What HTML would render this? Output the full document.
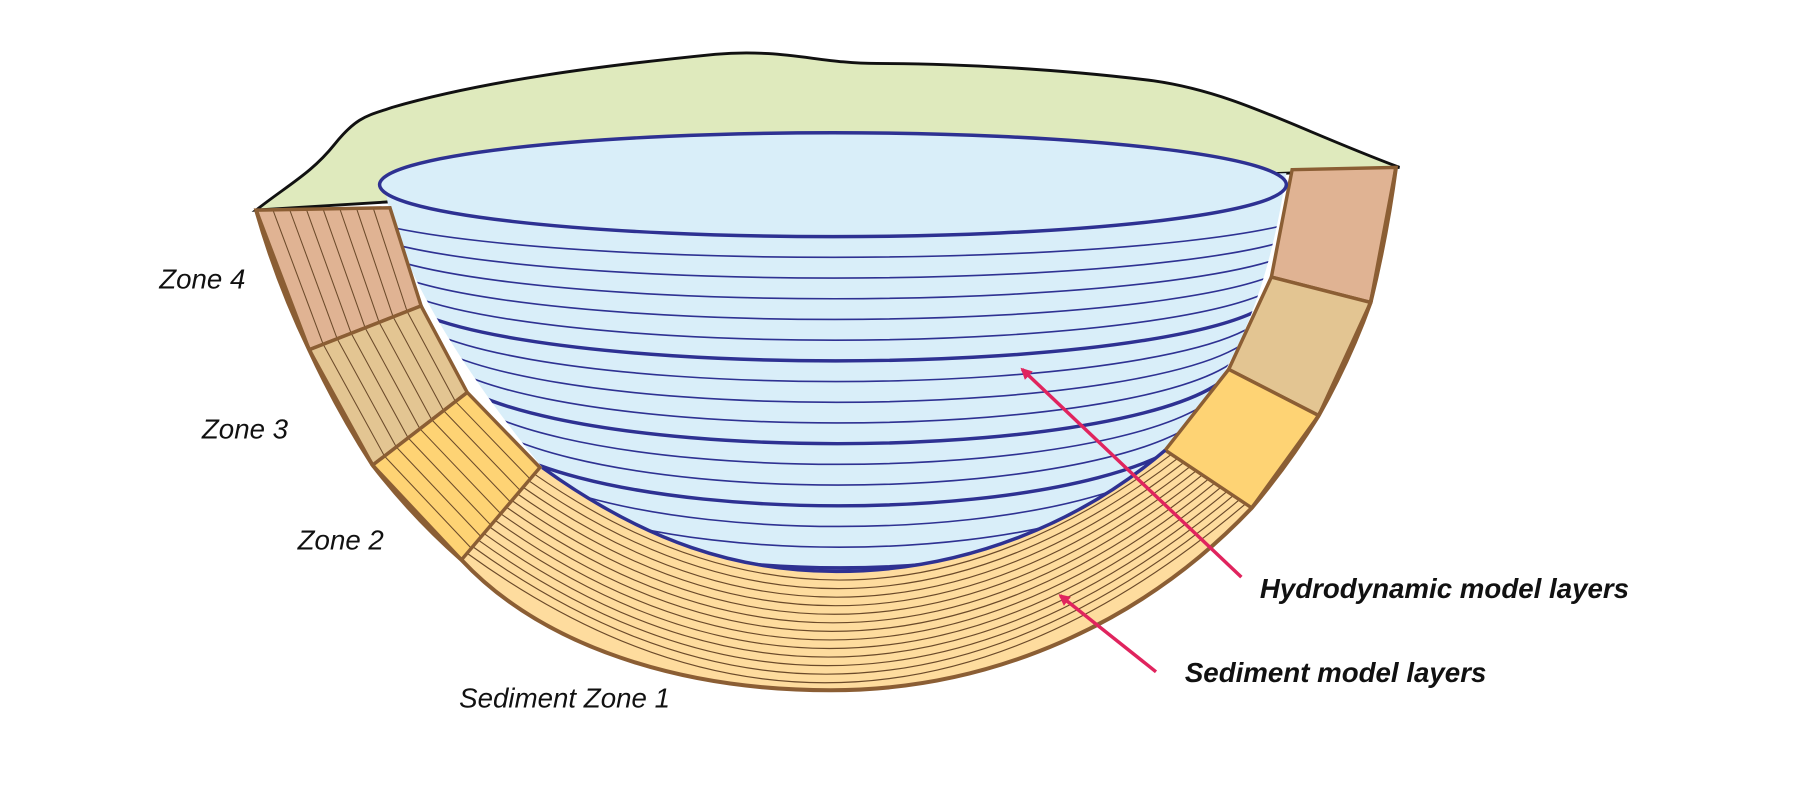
<!DOCTYPE html>
<html><head><meta charset="utf-8"><style>
html,body{margin:0;padding:0;background:#fff;}
svg{display:block;font-family:"Liberation Sans",Arial,sans-serif;}
</style></head><body>
<svg id="d" width="1809" height="793" viewBox="0 0 1568 687" preserveAspectRatio="none">
<defs>
<clipPath id="basinClip"><path d="M335,170 C345,230 400,320 470,405 C560,470 640,495 725,495 C840,495 940,450 1010,390 C1070,330 1100,250 1115,150 Z"/></clipPath>
<clipPath id="z1Clip"><path d="M400,485 L468,405 C560,470 640,495 725,495 C840,495 940,450 1010,390 L1085,440 C990,540 860,598 720,598 C590,598 470,560 400,485 Z"/></clipPath>
<marker id="ah" markerWidth="10" markerHeight="10" refX="8" refY="5" orient="auto" markerUnits="userSpaceOnUse"><path d="M0,0 L10,5 L0,10 Z" fill="#e0245e"/></marker>
</defs>
<path d="M222,182 C250,160 270,150 290,125 C310,100 320,100 340,93 C420,70 520,57 620,47 C680,42 710,55 760,55 C830,55 920,60 1000,70 C1070,80 1120,110 1213,145 L1115,150 L335,175 Z" fill="#dfeabd" stroke="#111" stroke-width="2.5"/>
<path d="M335,170 C345,230 400,320 470,405 C560,470 640,495 725,495 C840,495 940,450 1010,390 C1070,330 1100,250 1115,150 Z" fill="#d9eef9"/>
<g id="hydro" clip-path="url(#basinClip)"></g>
<path d="M400,485 L468,405 C560,470 640,495 725,495 C840,495 940,450 1010,390 L1085,440 C990,540 860,598 720,598 C590,598 470,560 400,485 Z" fill="#fedc9e"/>
<g id="sed" clip-path="url(#z1Clip)"></g>
<g id="zones"></g>
<path d="M470,405 C560,470 640,495 725,495 C840,495 940,450 1010,390" fill="none" stroke="#2e3192" stroke-width="3"/>
<path d="M222,182 Q240,245 268,303 Q292,355 323,403 Q358,448 400,485 C470,560 590,598 720,598 C860,598 990,540 1085,440 Q1117,402 1143,360 Q1170,312 1188,262 Q1202,205 1210,145" fill="none" stroke="#8b5e34" stroke-width="3.5"/>
<ellipse cx="722" cy="160" rx="393" ry="45" fill="#d9eef9" stroke="#2e3192" stroke-width="3"/>
<g font-style="italic" font-size="24" fill="#111">
<text x="138" y="250">Zone 4</text>
<text x="175" y="380">Zone 3</text>
<text x="258" y="476">Zone 2</text>
<text x="398" y="613">Sediment Zone 1</text>
<text x="1092" y="518" font-weight="bold">Hydrodynamic model layers</text>
<text x="1027" y="591" font-weight="bold">Sediment model layers</text>
</g>
<line x1="1076" y1="500" x2="886" y2="320" stroke="#e0245e" stroke-width="3" marker-end="url(#ah)"/>
<line x1="1002" y1="582" x2="919" y2="516" stroke="#e0245e" stroke-width="3" marker-end="url(#ah)"/>
</svg>
<script>
const NS="http://www.w3.org/2000/svg";
const hydroLayers=[0,1,2,3,4,5,6,7,8,9,10,11,12,13,14,15,16];
const thickLayers=[6,10,13,16];
const sedLayers=[1,2,3,4,5,6,7,8,9,10,11,12,13];
function mk(tag,attrs,parent){const e=document.createElementNS(NS,tag);for(const k in attrs)e.setAttribute(k,attrs[k]);parent.appendChild(e);return e;}
const hydro=document.getElementById('hydro');
hydroLayers.forEach(k=>{
  const t=k/16,cy=160+k*15,cx=722+6*t;
  const rx=k===0?393:440-150*t,ry=45+47*t;
  const e=mk('path',{d:`M${cx-rx},${cy} A${rx},${ry} 0 0 0 ${cx+rx},${cy}`,fill:'none',stroke:'#2e3192','stroke-width':thickLayers.includes(k)?3:1.4},hydro);
  
  
});
const sed=document.getElementById('sed');
const lerp=(a,b,t)=>a+(b-a)*t;
sedLayers.forEach(i=>{
  const t=i/14;
  const lx=lerp(468,400,t),ly=lerp(405,485,t),rx=lerp(1010,1085,t),ry=lerp(390,440,t);
  const my=lerp(495,598,t),cy=2*my-(ly+ry)/2,cx=(lx+rx)/2;
  const e=mk('path',{d:`M${lx},${ly} Q${cx},${cy} ${rx},${ry}`,fill:'none',stroke:'#6b4a2a','stroke-width':1},sed);
  
  
});
const zones=document.getElementById('zones');
const zoneDefs=[
 {n:'left-zone-4',p:[[222,182],[338,180],[365,265],[268,303]],c:'#e0b393',h:true},
 {n:'left-zone-3',p:[[268,303],[365,265],[405,340],[323,403]],c:'#e3c592',h:true},
 {n:'left-zone-2',p:[[323,403],[405,340],[468,405],[400,485]],c:'#fed374',h:true},
 {n:'right-zone-4',p:[[1120,147],[1210,145],[1188,262],[1102,240]],c:'#e0b393',h:false},
 {n:'right-zone-3',p:[[1102,240],[1188,262],[1143,360],[1065,320]],c:'#e3c592',h:false},
 {n:'right-zone-2',p:[[1065,320],[1143,360],[1085,440],[1010,390]],c:'#fed374',h:false}
];
zoneDefs.forEach(z=>{
  const g=mk('g',{},zones);
  
  
  mk('polygon',{points:z.p.map(q=>q.join(',')).join(' '),fill:z.c,stroke:'none'},g);
  if(z.h){
    for(let i=1;i<8;i++){const t=i/8;const a=z.p[0],b=z.p[1],c=z.p[2],d=z.p[3];
      const l=mk('line',{x1:lerp(a[0],b[0],t),y1:lerp(a[1],b[1],t),x2:lerp(d[0],c[0],t),y2:lerp(d[1],c[1],t),stroke:'#6b4a2a','stroke-width':0.9},g);
      
      }
  }
  mk('polygon',{points:z.p.map(q=>q.join(',')).join(' '),fill:'none',stroke:'#8b5e34','stroke-width':3},g);
});
</script>
</body></html>
